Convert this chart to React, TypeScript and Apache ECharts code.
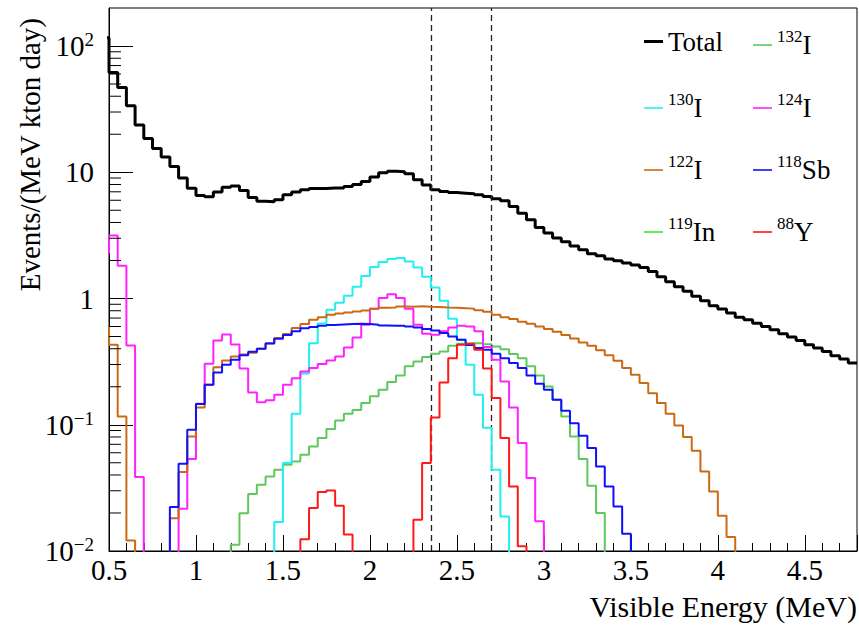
import React, { useEffect, useRef } from "react";
import * as echarts from "echarts";

// ---------- data (bin width 0.05 MeV, values in Events/(MeV kton day)) ----------
const BIN_WIDTH = 0.05;
const X_MIN = 0.5;
const X_MAX = 4.8;
const Y_MIN = 0.01;
const Y_MAX = 200;
const CUT_LOW = 2.35;
const CUT_HIGH = 2.7;

const totalStart = 0.45;
const totalValues = [
  116, 61.6, 46.9, 33.6, 23.7, 18.5, 15.4, 13.2, 11.1, 9.0, 7.48, 6.54, 6.39, 6.96, 7.62, 7.8,
  7.16, 6.31, 5.9, 5.83, 6.05, 6.62, 6.96, 7.26, 7.43, 7.43, 7.5, 7.52, 7.7, 8.0, 8.45, 9.16,
  9.89, 10.2, 10.1, 9.71, 8.71, 7.91, 7.26, 7.03, 6.91, 6.83, 6.75, 6.62, 6.42, 6.16, 5.94,
  5.35, 4.74, 4.2, 3.65, 3.3, 3.01, 2.81, 2.61, 2.43, 2.26, 2.18, 2.06, 1.99, 1.91, 1.84, 1.76,
  1.64, 1.49, 1.36, 1.24, 1.14, 1.04, 0.96, 0.875, 0.824, 0.766, 0.712, 0.678, 0.638, 0.6,
  0.565, 0.526, 0.495, 0.465, 0.43, 0.405, 0.38, 0.352, 0.331, 0.308,
];

const i132Start = 1.2;
const i132Values = [
  0.0112, 0.0199, 0.0283, 0.0335, 0.039, 0.044, 0.0482, 0.0512, 0.0578, 0.0673, 0.0785, 0.0925,
  0.108, 0.122, 0.131, 0.149, 0.168, 0.189, 0.218, 0.246, 0.29, 0.317, 0.344, 0.365, 0.38, 0.422,
  0.438, 0.443, 0.443, 0.435, 0.417, 0.397, 0.363, 0.337, 0.29, 0.246, 0.201, 0.158, 0.116,
  0.0807, 0.0535, 0.0329, 0.02,
];

const i130Start = 1.45;
const i130Values = [
  0.017, 0.0497, 0.122, 0.255, 0.443, 0.634, 0.814, 0.925, 1.05, 1.24, 1.51, 1.78, 1.95, 2.06,
  2.09, 1.96, 1.76, 1.49, 1.22, 0.959, 0.691, 0.471, 0.299, 0.173, 0.0947, 0.044, 0.0188,
];

const i124Start = 0.45;
const i124Values = [
  2.3, 3.15, 1.82, 0.425, 0.0385, 0, 0, 0, 0, 0.0216, 0.0535, 0.147, 0.304, 0.465, 0.519, 0.432,
  0.279, 0.18, 0.151, 0.156, 0.173, 0.207, 0.234, 0.264, 0.281, 0.303, 0.323, 0.347, 0.41, 0.49,
  0.619, 0.829, 1.01, 1.08, 1.01, 0.829, 0.619, 0.525, 0.516, 0.55, 0.59, 0.608, 0.6, 0.55, 0.412,
  0.327, 0.22, 0.137, 0.0716, 0.0378, 0.0172,
];

const i122Start = 0.45;
const i122Values = [
  0.6, 0.43, 0.116, 0.0121, 0, 0, 0, 0, 0.0182, 0.0422, 0.0807, 0.137, 0.207, 0.286, 0.323, 0.347,
  0.36, 0.372, 0.4, 0.443, 0.486, 0.523, 0.583, 0.627, 0.678, 0.712, 0.743, 0.76, 0.775, 0.789,
  0.804, 0.829, 0.844, 0.849, 0.865, 0.86, 0.87, 0.86, 0.855, 0.849, 0.844, 0.839, 0.829, 0.806,
  0.785, 0.743, 0.712, 0.687, 0.654, 0.631, 0.6, 0.573, 0.545, 0.513, 0.483, 0.449, 0.422, 0.39,
  0.355, 0.321, 0.281, 0.249, 0.214, 0.178, 0.149, 0.122, 0.0987, 0.08, 0.0622, 0.0427, 0.0296,
  0.019, 0.0129,
];

const sb118Start = 0.85;
const sb118Values = [
  0.0223, 0.0491, 0.0913, 0.146, 0.207, 0.259, 0.299, 0.327, 0.356, 0.378, 0.4, 0.44, 0.48, 0.515,
  0.55, 0.58, 0.594, 0.608, 0.616, 0.622, 0.627, 0.631, 0.627, 0.619, 0.611, 0.608, 0.608, 0.6,
  0.589, 0.573, 0.558, 0.532, 0.5, 0.471, 0.428, 0.405, 0.393, 0.365, 0.337, 0.308, 0.281, 0.246,
  0.211, 0.189, 0.158, 0.129, 0.103, 0.0818, 0.0654, 0.0468, 0.0325, 0.0225, 0.0137,
];

const in119Start = 0.5;
const in119Values: number[] = [];

const y88Start = 1.6;
const y88Values = [
  0.0124, 0.0219, 0.0293, 0.0302, 0.0228, 0.0135, 0, 0, 0, 0, 0, 0, 0, 0.0177, 0.0497, 0.114,
  0.216, 0.337, 0.43, 0.438, 0.393, 0.279, 0.163, 0.0785, 0.0325, 0.0109,
];

const xTickLabels = ["0.5", "1", "1.5", "2", "2.5", "3", "3.5", "4", "4.5"];
const yDecades = [0.01, 0.1, 1, 10];
const yMinorMultipliers = [2, 3, 4, 5, 6, 7, 8, 9];

// ---------- helpers ----------
const FONT = "Liberation Serif";
const FLOOR = 1e-5;
const rnd = (v: number) => Math.round(v * 1000) / 1000;

function histPoints(start: number, values: number[], closeEnd: boolean) {
  if (!values.length) return [];
  const f = (v: number) => (v > 0 ? v : FLOOR);
  const pts: number[][] = [[rnd(start - BIN_WIDTH), FLOOR]];
  values.forEach((v, i) => pts.push([rnd(start + i * BIN_WIDTH), f(v)]));
  const end = rnd(start + values.length * BIN_WIDTH);
  if (closeEnd) {
    pts.push([end, FLOOR]);
    pts.push([rnd(end + BIN_WIDTH), FLOOR]);
  } else {
    pts.push([end, f(values[values.length - 1])]);
  }
  return pts;
}

const seriesDefs = [
  { name: "Total", color: "#000000", width: 3, start: totalStart, values: totalValues, close: false },
  { name: "132I", color: "#5ec85e", width: 2, start: i132Start, values: i132Values, close: true },
  { name: "130I", color: "#22f0f0", width: 2, start: i130Start, values: i130Values, close: true },
  { name: "124I", color: "#ff22ff", width: 2, start: i124Start, values: i124Values, close: true },
  { name: "122I", color: "#cc6a14", width: 2, start: i122Start, values: i122Values, close: true },
  { name: "118Sb", color: "#1010ff", width: 2, start: sb118Start, values: sb118Values, close: true },
  { name: "119In", color: "#33ee33", width: 2, start: in119Start, values: in119Values, close: true },
  { name: "88Y", color: "#ff1a1a", width: 2, start: y88Start, values: y88Values, close: true },
];

const legendColumns = [
  ["Total", "130I", "122I", "119In"],
  ["132I", "124I", "118Sb", "88Y"],
];

function legendText(name: string) {
  const m = name.match(/^(\d+)(.*)$/);
  if (!m) return `{base|${name}}`;
  return `{sup|${m[1]}}{base|${m[2]}}`;
}

function yLabel(v: number) {
  const e = Math.log10(v);
  const r = Math.round(e);
  if (Math.abs(e - r) > 1e-6) return "";
  if (r === 0) return "{base|1}";
  if (r === 1) return "{base|10}";
  return `{base|10}{sup|${r < 0 ? "\u2212" + -r : r}}`;
}

export default function App() {
  const ref = useRef<HTMLDivElement>(null);

  useEffect(() => {
    if (!ref.current) return;
    const chart = echarts.init(ref.current, null, { renderer: "svg" });

    const minorTicks: number[][] = [];
    yDecades.forEach((d) => yMinorMultipliers.forEach((m) => minorTicks.push([X_MIN, rnd(d * m * 1e4) / 1e4])));

    const lineSeries = seriesDefs.map((s, i) => ({
      name: s.name,
      type: "line",
      step: "end",
      data: histPoints(s.start, s.values, s.close),
      showSymbol: false,
      symbol: "none",
      clip: true,
      z: 3 + i,
      lineStyle: { color: s.color, width: s.width },
      itemStyle: { color: s.color },
      emphasis: { disabled: true },
    }));

    const legendRows = [45, 108, 170, 232];
    const legendCols = [644, 753];

    const option: any = {
      animation: false,
      backgroundColor: "#ffffff",
      textStyle: { fontFamily: FONT },
      grid: {
        left: 109,
        top: 8,
        right: 2,
        bottom: 75,
        show: true,
        borderColor: "#000",
        borderWidth: 1,
        containLabel: false,
        outerBoundsMode: "none",
      },
      xAxis: {
        type: "value",
        min: X_MIN,
        max: X_MAX,
        interval: 0.5,
        axisLine: { show: true, onZero: false, lineStyle: { color: "#000", width: 1 } },
        axisTick: { show: true, inside: true, length: 16, lineStyle: { color: "#000", width: 1 } },
        minorTick: { show: true, splitNumber: 5, length: 8, lineStyle: { color: "#000", width: 1 } },
        splitLine: { show: false },
        minorSplitLine: { show: false },
        axisLabel: {
          color: "#000",
          fontFamily: FONT,
          fontSize: 29,
          margin: 4,
          showMinLabel: true,
          showMaxLabel: false,
          formatter: (v: number) => {
            const idx = Math.round((v - X_MIN) / 0.5);
            return Math.abs(v - (X_MIN + idx * 0.5)) < 1e-6 && xTickLabels[idx] ? xTickLabels[idx] : "";
          },
        },
      },
      yAxis: {
        type: "log",
        logBase: 10,
        min: Y_MIN,
        max: Y_MAX,
        axisLine: { show: true, onZero: false, lineStyle: { color: "#000", width: 1 } },
        axisTick: { show: true, inside: true, length: 24, lineStyle: { color: "#000", width: 1 } },
        minorTick: { show: false },
        splitLine: { show: false },
        axisLabel: {
          color: "#000",
          fontFamily: FONT,
          margin: 15,
          showMaxLabel: false,
          formatter: yLabel,
          rich: {
            base: { fontFamily: FONT, fontSize: 29, color: "#000", lineHeight: 32 },
            sup: { fontFamily: FONT, fontSize: 19, color: "#000", verticalAlign: "top" },
          },
        },
      },
      legend: legendColumns.flatMap((col, c) =>
        col.map((name, r) => ({
          data: [name],
          orient: "horizontal",
          left: legendCols[c],
          top: legendRows[r] - 17,
          padding: 0,
          itemWidth: 19,
          itemHeight: 14,
          icon: name === "Total" ? "path://M0,0H19V3H0Z" : "path://M0,0H19V1.6H0Z",
          selectedMode: false,
          formatter: legendText,
          textStyle: {
            color: "#000",
            fontFamily: FONT,
            fontSize: 27,
            rich: {
              base: { fontFamily: FONT, fontSize: 27, color: "#000", lineHeight: 34 },
              sup: { fontFamily: FONT, fontSize: 17, color: "#000", verticalAlign: "top" },
            },
          },
        }))
      ),
      graphic: [
        {
          type: "text",
          x: 857,
          y: 606,
          style: {
            text: "Visible Energy (MeV)",
            font: `30px ${FONT}`,
            fill: "#000",
            textAlign: "right",
            textVerticalAlign: "middle",
          },
        },
        {
          type: "text",
          x: 30,
          y: 18,
          rotation: Math.PI / 2,
          style: {
            text: "Events/(MeV kton day)",
            font: `29px ${FONT}`,
            fill: "#000",
            textAlign: "right",
            textVerticalAlign: "middle",
          },
        },
      ],
      series: [
        ...lineSeries,
        {
          name: "cuts",
          type: "line",
          data: [],
          z: 20,
          markLine: {
            silent: true,
            symbol: ["none", "none"],
            label: { show: false },
            lineStyle: { color: "#222", width: 1.3, type: [6, 4] },
            data: [{ xAxis: CUT_LOW }, { xAxis: CUT_HIGH }],
          },
        },
        {
          name: "yMinorTicks",
          type: "custom",
          data: minorTicks,
          z: 30,
          clip: false,
          silent: true,
          renderItem: (_p: any, api: any) => {
            const pt = api.coord([api.value(0), api.value(1)]);
            return {
              type: "line",
              shape: { x1: pt[0], y1: pt[1], x2: pt[0] + 12, y2: pt[1] },
              style: { stroke: "#000", lineWidth: 1 },
            };
          },
        },
      ],
    };

    chart.setOption(option);
    return () => chart.dispose();
  }, []);

  return (
    <div
      ref={ref}
      style={{ position: "fixed", left: 0, top: 0, width: 859, height: 626, background: "#fff" }}
    />
  );
}
